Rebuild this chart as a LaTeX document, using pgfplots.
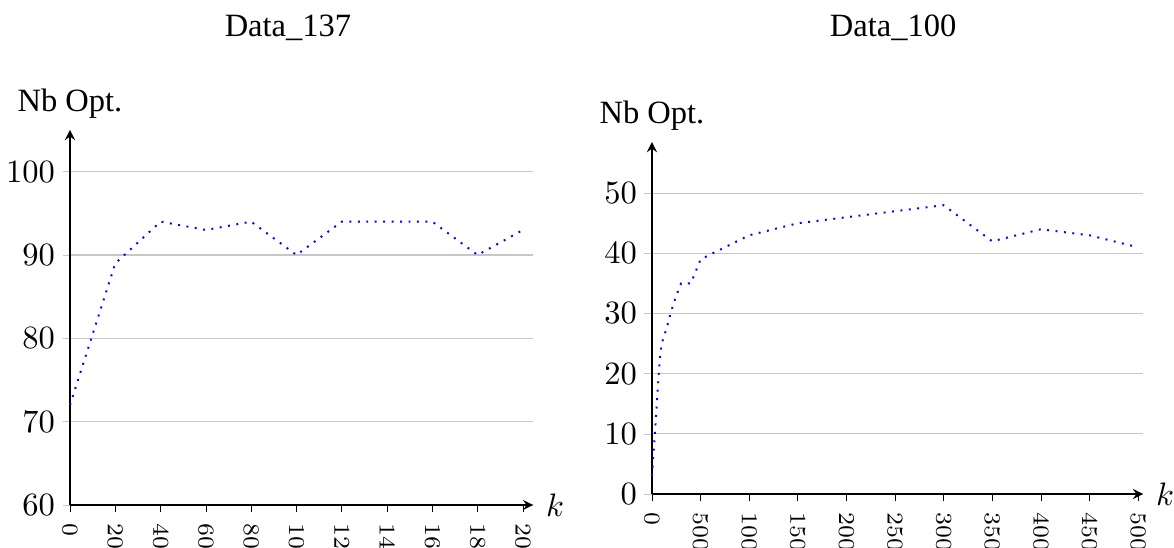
\documentclass[border=0pt]{standalone}
\usepackage{fontspec}
\setmainfont{Liberation Serif}
\usepackage{pgfplots}
\pgfplotsset{compat=1.18}
\begin{document}
\begin{tikzpicture}
\useasboundingbox (0,0) rectangle (361.23pt,168.31pt);
\pgfplotsset{
  myax/.style={
    scale only axis,
    axis lines=left,
    anchor=origin,
    clip=false,
    ymajorgrids,
    grid style={black!22},
    tick align=outside,
    major tick length=2.3pt,
    x tick style={black},
    y tick style={black!22},
    xticklabel style={rotate=-90, anchor=west, font=\scriptsize},
    yticklabel style={xshift=1.2pt},
    xlabel={$k$},
    xlabel style={at={(rel axis cs:1,0)}, anchor=west, xshift=0.5pt},
  }
}
\begin{axis}[myax,
  at={(21.54pt,12.92pt)},
  width=142.5pt, height=115.4pt,
  xmin=0, xmax=204.5, ymin=60, ymax=105,
  ytick={60,70,80,90,100},
  xtick={0,20,...,200},
]
\addplot[blue, dotted, semithick, mark=none] coordinates {(0,72) (20,89) (40,94) (60,93) (80,94) (100,90) (120,94) (140,94) (160,94) (180,90) (200,93)};
\node at (rel axis cs:0,1) [yshift=8pt] {Nb Opt.};
\end{axis}
\begin{axis}[myax,
  at={(200.6pt,16.31pt)},
  width=151.1pt, height=108.3pt,
  xmin=0, xmax=5051, ymin=0, ymax=58.5,
  ytick={0,10,...,50},
  xtick={0,500,...,5000},
  scaled x ticks=false,
  xticklabel style={/pgf/number format/1000 sep={}},
]
\addplot[blue, dotted, semithick, mark=none] coordinates {(0,3) (30,10) (50,15) (70,20) (85,23) (100,25) (150,27.5) (200,30.5) (250,33) (300,35) (400,35) (450,37) (500,39) (1000,43) (1500,45) (2000,46) (2500,47) (3000,48) (3500,42) (4000,44) (4500,43) (5000,41)};
\node at (rel axis cs:0,1) [yshift=8pt] {Nb Opt.};
\end{axis}
\node at (88.6pt,159.7pt) {Data\_137};
\node at (274.8pt,159.7pt) {Data\_100};
\end{tikzpicture}
\end{document}
